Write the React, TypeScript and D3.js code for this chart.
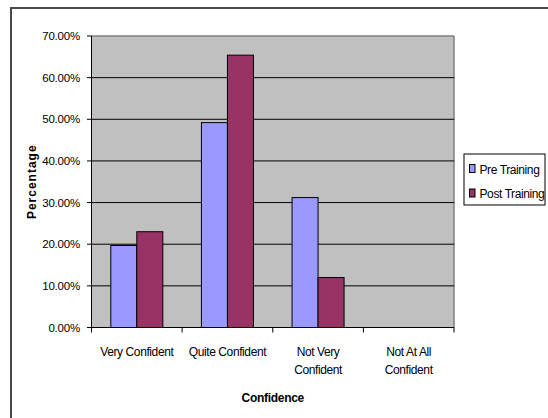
import React from "react";
import * as d3 from "d3";

const categories = [
  ["Very Confident"],
  ["Quite Confident"],
  ["Not Very", "Confident"],
  ["Not At All", "Confident"],
];
const seriesNames = ["Pre Training", "Post Training"];
const preTraining = [0.197, 0.492, 0.312, 0];
const postTraining = [0.23, 0.654, 0.12, 0];
const yTicks = [0, 0.1, 0.2, 0.3, 0.4, 0.5, 0.6, 0.7];
const seriesColors = ["#9999FF", "#993366"];

const W = 548;
const H = 418;
const plot = { left: 91.5, right: 454, top: 36, bottom: 327.5 };
const FONT = "'Liberation Sans', Arial, sans-serif";

export default function App() {
  const x = d3
    .scaleBand<number>()
    .domain(d3.range(categories.length))
    .range([plot.left, plot.right])
    .paddingInner(0)
    .paddingOuter(0);
  const y = d3.scaleLinear().domain([0, 0.7]).range([plot.bottom, plot.top]);
  const groupPad = x.bandwidth() * 0.213;
  const xs = d3
    .scaleBand<number>()
    .domain([0, 1])
    .range([groupPad, x.bandwidth() - groupPad]);
  const fmt = d3.format(".2%");
  const series = [preTraining, postTraining];

  return (
    <svg
      width={W}
      height={H}
      style={{ position: "absolute", left: 0, top: 0, background: "#fff" }}
      fontFamily={FONT}
    >
      {/* outer chart frame */}
      <rect x={11} y={8} width={W} height={H} fill="#fff" stroke="#4a4a4a" strokeWidth={2} />

      {/* plot area */}
      <rect
        x={plot.left}
        y={plot.top}
        width={plot.right - plot.left}
        height={plot.bottom - plot.top}
        fill="#C0C0C0"
      />
      <line x1={plot.left} x2={plot.right} y1={plot.top} y2={plot.top} stroke="#808080" strokeWidth={1.5} />
      <line x1={plot.right} x2={plot.right} y1={plot.top} y2={plot.bottom} stroke="#808080" strokeWidth={1.5} />

      {/* gridlines */}
      {yTicks.slice(1, -1).map((t) => (
        <line key={t} x1={plot.left} x2={plot.right} y1={y(t)} y2={y(t)} stroke="#000" strokeWidth={1} />
      ))}

      {/* bars */}
      {categories.map((_, i) =>
        series.map((vals, s) =>
          vals[i] > 0 ? (
            <rect
              key={`${i}-${s}`}
              x={(x(i) as number) + (xs(s) as number)}
              y={y(vals[i])}
              width={xs.bandwidth()}
              height={plot.bottom - y(vals[i])}
              fill={seriesColors[s]}
              stroke="#000"
              strokeWidth={1}
            />
          ) : null
        )
      )}

      {/* y axis */}
      <line x1={plot.left} x2={plot.left} y1={plot.top} y2={plot.bottom} stroke="#000" strokeWidth={1} />
      {yTicks.map((t) => (
        <g key={t}>
          <line x1={plot.left - 4.5} x2={plot.left} y1={y(t)} y2={y(t)} stroke="#000" />
          <text x={80} y={y(t) + 4} textAnchor="end" fontSize={11.5} letterSpacing={-0.2}>
            {fmt(t)}
          </text>
        </g>
      ))}

      {/* x axis */}
      <line x1={plot.left} x2={plot.right} y1={plot.bottom} y2={plot.bottom} stroke="#000" strokeWidth={1} />
      {d3.range(categories.length + 1).map((i) => {
        const xx = plot.left + i * x.step();
        return <line key={i} x1={xx} x2={xx} y1={plot.bottom} y2={plot.bottom + 5} stroke="#000" />;
      })}
      {categories.map((lines, i) => (
        <text
          key={i}
          x={(x(i) as number) + x.bandwidth() / 2}
          y={356}
          textAnchor="middle"
          fontSize={12}
          letterSpacing={-0.4}
        >
          {lines.map((l, k) => (
            <tspan key={k} x={(x(i) as number) + x.bandwidth() / 2} dy={k === 0 ? 0 : 18}>
              {l}
            </tspan>
          ))}
        </text>
      ))}

      {/* axis titles */}
      <text
        x={(plot.left + plot.right) / 2}
        y={402}
        textAnchor="middle"
        fontSize={12}
        fontWeight="bold"
        letterSpacing={-0.3}
      >
        Confidence
      </text>
      <text
        transform={`translate(35.5, ${(plot.top + plot.bottom) / 2}) rotate(-90)`}
        textAnchor="middle"
        fontSize={12}
        fontWeight="bold"
        letterSpacing={1}
      >
        Percentage
      </text>

      {/* legend */}
      <rect x={464} y={154} width={81} height={51} fill="#fff" stroke="#000" strokeWidth={1} />
      {seriesNames.map((name, s) => (
        <g key={name} transform={`translate(469, ${169 + s * 24.5})`}>
          <rect x={0.5} y={-4.5} width={5.5} height={8} fill={seriesColors[s]} stroke="#000" strokeWidth={1} />
          <text x={10.5} y={4.5} fontSize={12} letterSpacing={-0.4}>
            {name}
          </text>
        </g>
      ))}
    </svg>
  );
}
